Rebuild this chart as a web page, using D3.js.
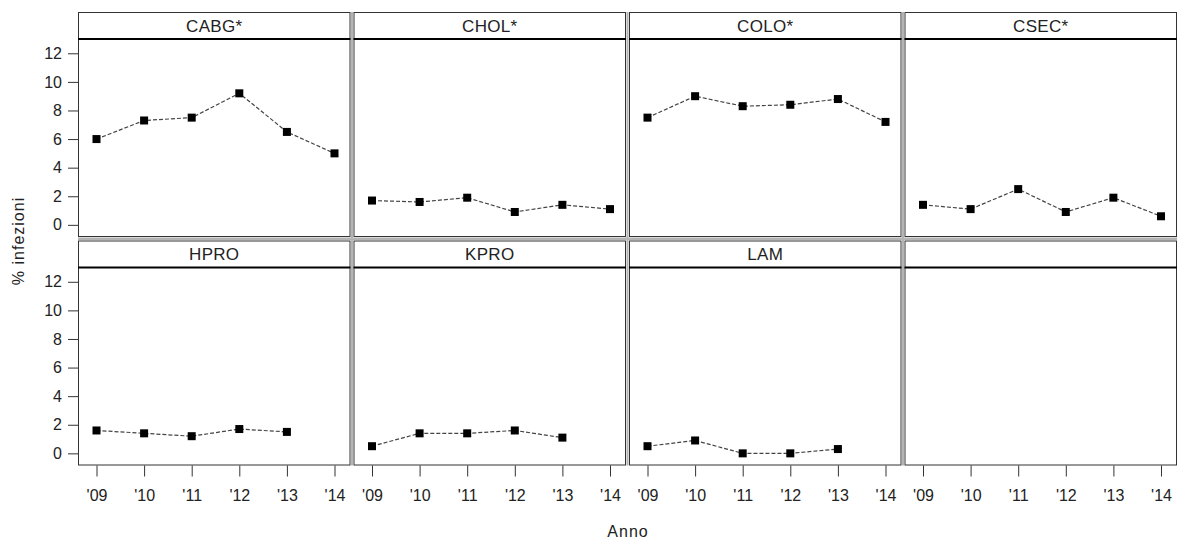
<!DOCTYPE html>
<html>
<head>
<meta charset="utf-8">
<script src="https://cdn.jsdelivr.net/npm/d3@7"></script>
<style>
  body { margin: 0; background: #fff; }
  text { font-family: "Liberation Sans", Arial, sans-serif; fill: #222; }
</style>
</head>
<body>
<svg id="chart" width="1177" height="540"></svg>
<script>
var years = ["'09", "'10", "'11", "'12", "'13", "'14"];
var panelNames = ["CABG*", "CHOL*", "COLO*", "CSEC*", "HPRO", "KPRO", "LAM", ""];
var yTicks = [0, 2, 4, 6, 8, 10, 12];

// % infezioni per anno
var cabg = [6.0, 7.3, 7.5, 9.2, 6.5, 5.0];
var chol = [1.7, 1.6, 1.9, 0.9, 1.4, 1.1];
var colo = [7.5, 9.0, 8.3, 8.4, 8.8, 7.2];
var csec = [1.4, 1.1, 2.5, 0.9, 1.9, 0.6];
var hpro = [1.6, 1.4, 1.2, 1.7, 1.5, null];
var kpro = [0.5, 1.4, 1.4, 1.6, 1.1, null];
var lam  = [0.5, 0.9, 0.0, 0.0, 0.3, null];
var series = [cabg, chol, colo, csec, hpro, kpro, lam, []];

var svg = d3.select("#chart");

var x0 = 78, pitch = 275.5, pw = 272.5;
var rowTop = [12, 240.5], headH = 27, plotH = 198;

var x = d3.scalePoint()
  .domain(years)
  .range([18.5, pw - 16]);

var y = d3.scaleLinear()
  .domain([-0.85, 13.0])
  .range([plotH, 0]);

var line = d3.line()
  .defined(function (d) { return d != null; })
  .x(function (d, i) { return x(years[i]); })
  .y(function (d) { return y(d); });

// light grey gaps between cells
var gaps = svg.append("g");
for (var c = 1; c < 4; c++) {
  gaps.append("rect")
    .attr("x", x0 + c * pitch - 2.5).attr("y", rowTop[0])
    .attr("width", 2).attr("height", rowTop[1] + headH + plotH - rowTop[0])
    .attr("fill", "#b4b4b4");
}
gaps.append("rect")
  .attr("x", x0).attr("y", rowTop[0] + headH + plotH + 0.5)
  .attr("width", 4 * pitch - 3).attr("height", rowTop[1] - rowTop[0] - headH - plotH - 1)
  .attr("fill", "#b4b4b4");

panelNames.forEach(function (name, k) {
  var col = k % 4, row = Math.floor(k / 4);
  var g = svg.append("g")
    .attr("transform", "translate(" + (x0 + col * pitch) + "," + rowTop[row] + ")");

  g.append("rect")
    .attr("x", 0.5).attr("y", 0.5)
    .attr("width", pw - 1).attr("height", headH + plotH - 1)
    .attr("fill", "#fff")
    .attr("stroke", "#333");

  g.append("line")
    .attr("x1", 0).attr("x2", pw)
    .attr("y1", headH).attr("y2", headH)
    .attr("stroke", "#000")
    .attr("stroke-width", 2);

  g.append("text")
    .attr("x", pw / 2).attr("y", headH / 2 + 6)
    .attr("text-anchor", "middle")
    .style("font-size", "17px")
    .style("letter-spacing", "0.3px")
    .text(name);

  var p = g.append("g").attr("transform", "translate(0," + headH + ")");
  var vals = series[k];
  if (vals.length) {
    p.append("path")
      .datum(vals)
      .attr("d", line)
      .attr("fill", "none")
      .attr("stroke", "#444")
      .attr("stroke-width", 1.2)
      .attr("stroke-dasharray", "4,2");

    p.selectAll("rect.pt")
      .data(vals.map(function (v, i) { return {v: v, i: i}; })
        .filter(function (d) { return d.v != null; }))
      .enter().append("rect")
      .attr("class", "pt")
      .attr("x", function (d) { return x(years[d.i]) - 4; })
      .attr("y", function (d) { return y(d.v) - 4; })
      .attr("width", 8).attr("height", 8)
      .attr("fill", "#000");
  }

  if (col === 0) {
    var ya = p.append("g")
      .call(d3.axisLeft(y).tickValues(yTicks).tickSize(10).tickPadding(6));
    ya.select(".domain").remove();
    ya.selectAll("line").attr("stroke", "#333");
    ya.selectAll("text").style("font-size", "16px").attr("fill", "#222");
  }

  if (row === 1) {
    var xa = p.append("g")
      .attr("transform", "translate(0," + plotH + ")")
      .call(d3.axisBottom(x).tickSize(11).tickPadding(13));
    xa.select(".domain").remove();
    xa.selectAll("line").attr("stroke", "#333");
    xa.selectAll("text").style("font-size", "16px").attr("fill", "#222");
  }
});

svg.append("text")
  .attr("transform", "translate(24,241) rotate(-90)")
  .attr("text-anchor", "middle")
  .style("font-size", "16px")
  .style("letter-spacing", "1px")
  .text("% infezioni");

svg.append("text")
  .attr("x", 628).attr("y", 537)
  .attr("text-anchor", "middle")
  .style("font-size", "16px")
  .style("letter-spacing", "1px")
  .text("Anno");
</script>
</body>
</html>
